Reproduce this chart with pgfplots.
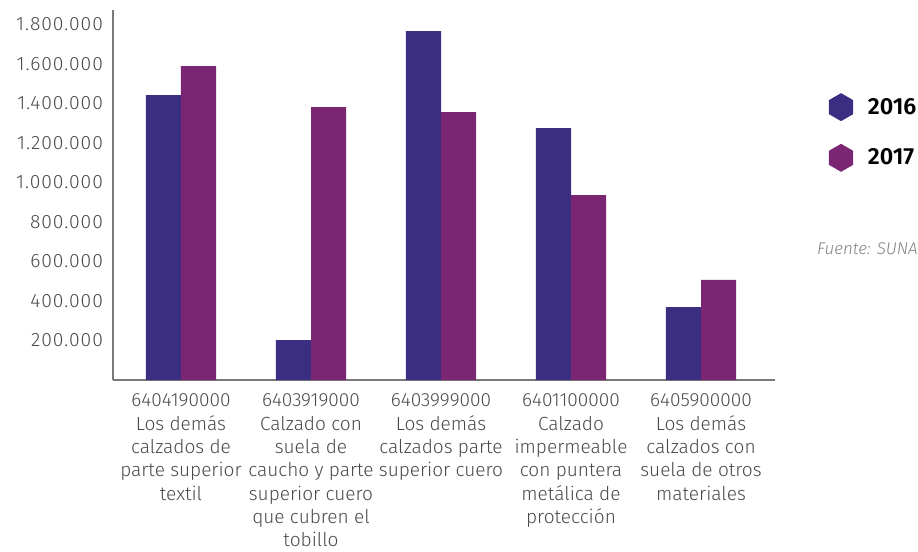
\documentclass[border=0pt]{standalone}
\usepackage{pgfplots}
\pgfplotsset{compat=1.18}
\usepackage{fontspec}
\IfFontExistsTF{Fira Sans Light}{\setmainfont{Fira Sans}[UprightFont={* Light},ItalicFont={* Light Italic},BoldFont={* SemiBold}]\newfontfamily\wide{Fira Sans}[UprightFont={* Light},LetterSpace=5.0]}{\setmainfont{Fira Sans}\newfontfamily\wide{Fira Sans}[LetterSpace=5.0]}
\definecolor{cA}{HTML}{3B2D82}
\definecolor{cB}{HTML}{7A2672}
\definecolor{tx}{HTML}{4A4A4A}
\definecolor{ax}{HTML}{7A7A7A}
\pgfplotsset{hexlegend/.style={legend image code/.code={\fill[##1] (90:10.5pt)--(150:10.5pt)--(210:10.5pt)--(270:10.5pt)--(330:10.5pt)--(30:10.5pt)--cycle;}}}
\begin{document}
\begin{tikzpicture}[x=0.75pt,y=0.75pt]
\begin{axis}[
  scale only axis, width=496.5pt, height=277.5pt,
  ybar=0pt, bar width=0.27,
  xmin=-0.523, xmax=4.569, ymin=0, ymax=1871000,
  axis x line=bottom, axis y line=left,
  axis line style={-, draw=ax, line width=1.2pt},
  major tick length=0pt,
  scaled y ticks=false,
  xtick={0,1,2,3,4},
  xticklabels={
    {6404190000\\Los demás\\calzados de\\parte superior\\textil},
    {6403919000\\Calzado con\\suela de\\caucho y parte\\superior cuero\\que cubren el\\tobillo},
    {6403999000\\Los demás\\calzados parte\\superior cuero},
    {6401100000\\Calzado\\impermeable\\con puntera\\metálica de\\protección},
    {6405900000\\Los demás\\calzados con\\suela de otros\\materiales}},
  x tick label style={font=\fontsize{14.3}{17.5}\selectfont, text=tx, align=center, anchor=north, yshift=-7pt},
  ytick={200000,400000,600000,800000,1000000,1200000,1400000,1600000,1800000},
  yticklabels={200.000,400.000,600.000,800.000,1.000.000,1.200.000,1.400.000,1.600.000,1.800.000},
  y tick label style={font=\wide\fontsize{14.5}{16}\selectfont, text=tx, anchor=east, xshift=-4pt},
  legend style={at={(1.075,0.669)}, anchor=west, draw=none, fill=none,
    font=\bfseries\fontsize{17.5}{20}\selectfont, row sep=17pt},
  legend cell align=left,
  clip=false,
]
\addplot[fill=cA, draw=none, hexlegend]
  coordinates {(0,1441000) (1,202000) (2,1764000) (3,1274000) (4,369000)};
\addplot[fill=cB, draw=none, hexlegend]
  coordinates {(0,1587000) (1,1380000) (2,1355000) (3,935000) (4,506000)};
\legend{\hspace*{9pt}2016,\hspace*{9pt}2017}
\coordinate (O) at (rel axis cs:0,0);
\node[anchor=west, inner sep=0pt, text=gray, font=\itshape\fontsize{12.7}{14}\selectfont] at (rel axis cs:1.0634,0.356) {Fuente: SUNAT};
\end{axis}
\pgfresetboundingbox
\path (O) ++(-113,-171) coordinate (BL);
\useasboundingbox (BL) rectangle ++(918,551);
\end{tikzpicture}
\end{document}
